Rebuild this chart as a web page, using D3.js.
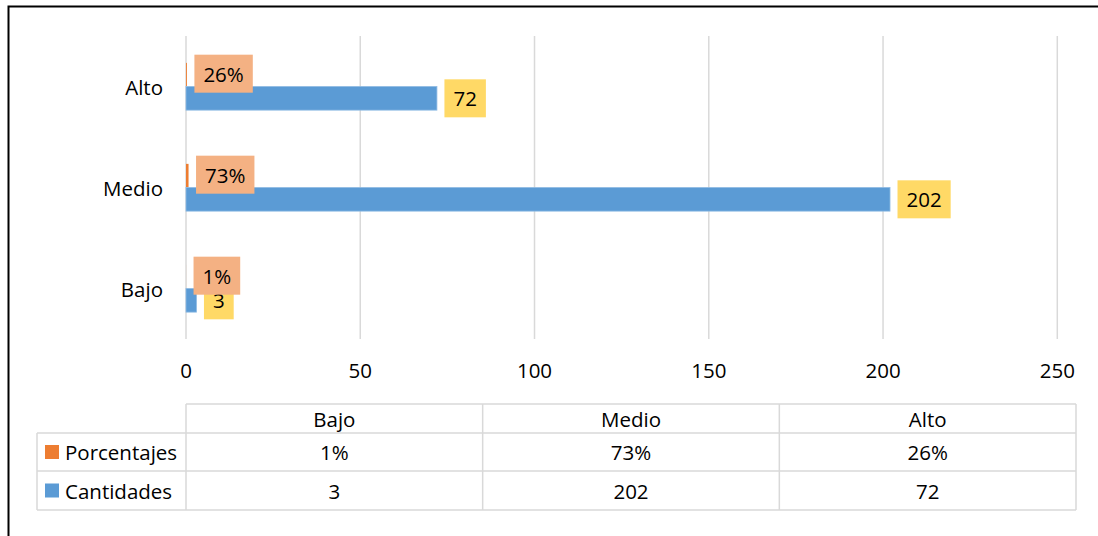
<!DOCTYPE html>
<html>
<head>
<meta charset="utf-8">
<script src="https://cdn.jsdelivr.net/npm/d3@7"></script>
<style>
  body { margin: 0; background: #fff; }
  text { font-family: "Open Sans", "Noto Sans", sans-serif; font-size: 20.5px; fill: #000; }
</style>
</head>
<body>
<div id="chart"></div>
<script>
// data (table order: Bajo, Medio, Alto)
var categorias = ["Bajo", "Medio", "Alto"];
var cantidades = [3, 202, 72];
var porcentajes = [0.01, 0.73, 0.26];
var porcentajesTxt = ["1%", "73%", "26%"];
var series = ["Porcentajes", "Cantidades"];
var xTicks = [0, 50, 100, 150, 200, 250];

function init() {
    var w = 1098, h = 536;
    var azul = "#5b9bd5", naranja = "#ed7d31";
    var cajaAmarilla = "#ffd966", cajaNaranja = "#f4b183";
    var gris = "#d9d9d9";

    var svg = d3.select("#chart").append("svg")
        .attr("width", w)
        .attr("height", h);

    // outer frame
    svg.append("rect")
        .attr("x", 8.5).attr("y", 6.5)
        .attr("width", w + 20).attr("height", h + 20)
        .attr("fill", "none")
        .attr("stroke", "#000")
        .attr("stroke-width", 2);

    // scales
    var x = d3.scaleLinear().domain([0, 250]).range([186, 1057.3]);
    var y = d3.scaleBand()
        .domain(categorias.slice().reverse())
        .range([36, 339])
        .paddingInner(0.532)
        .paddingOuter(0.266);
    var y1 = d3.scaleBand().domain(series).range([0, y.bandwidth()]);

    // gridlines
    svg.append("g").selectAll("line")
        .data(xTicks)
        .enter().append("line")
        .attr("x1", function (d) { return x(d); })
        .attr("x2", function (d) { return x(d); })
        .attr("y1", 36).attr("y2", 339)
        .attr("stroke", gris)
        .attr("stroke-width", 1.5);

    // x axis labels
    svg.append("g").selectAll("text")
        .data(xTicks)
        .enter().append("text")
        .attr("x", function (d) { return x(d); })
        .attr("y", 370)
        .attr("text-anchor", "middle")
        .attr("dominant-baseline", "central")
        .text(function (d) { return d; });

    // category labels
    svg.append("g").selectAll("text")
        .data(categorias)
        .enter().append("text")
        .attr("x", 163)
        .attr("y", function (d) { return y(d) + y.bandwidth() / 2; })
        .attr("text-anchor", "end")
        .attr("dominant-baseline", "central")
        .text(function (d) { return d; });

    var filas = categorias.map(function (c, i) {
        return { cat: c, cant: cantidades[i], pct: porcentajes[i], pctTxt: porcentajesTxt[i] };
    });

    // bars
    var barras = svg.append("g");
    barras.selectAll(".pct")
        .data(filas)
        .enter().append("rect")
        .attr("x", x(0))
        .attr("y", function (d) { return y(d.cat) + y1("Porcentajes"); })
        .attr("width", function (d) { return x(d.pct) - x(0); })
        .attr("height", y1.bandwidth())
        .attr("fill", naranja);
    barras.selectAll(".cant")
        .data(filas)
        .enter().append("rect")
        .attr("x", x(0))
        .attr("y", function (d) { return y(d.cat) + y1("Cantidades"); })
        .attr("width", function (d) { return x(d.cant) - x(0); })
        .attr("height", y1.bandwidth())
        .attr("fill", azul)
        .attr("stroke", "#8fbbe3")
        .attr("stroke-width", 0.8);

    // data labels with filled boxes
    function etiqueta(g, xPos, yMid, txt, fondo) {
        var grupo = g.append("g");
        var r = grupo.append("rect");
        var t = grupo.append("text")
            .attr("x", xPos + 9)
            .attr("y", yMid)
            .attr("dominant-baseline", "central")
            .text(txt);
        var tw = t.node().getComputedTextLength();
        r.attr("x", xPos).attr("y", yMid - 19)
            .attr("width", tw + 18).attr("height", 38)
            .attr("fill", fondo);
    }
    var etiquetas = svg.append("g");
    filas.forEach(function (d) {
        etiqueta(etiquetas, x(d.cant) + 7.5,
            y(d.cat) + y1("Cantidades") + y1.bandwidth() / 2, d.cant, cajaAmarilla);
    });
    filas.forEach(function (d) {
        etiqueta(etiquetas, x(d.pct) + 7.5,
            y(d.cat) + y1("Porcentajes") + y1.bandwidth() / 2 - 1, d.pctTxt, cajaNaranja);
    });

    // data table
    var colX = d3.scaleBand().domain(categorias).range([186, 1076]);
    var filaY = [404, 433, 471, 510];
    var tabla = svg.append("g").attr("stroke", gris).attr("stroke-width", 1.5);
    tabla.append("line").attr("x1", 186).attr("x2", 1076).attr("y1", filaY[0]).attr("y2", filaY[0]);
    [filaY[1], filaY[2], filaY[3]].forEach(function (yy) {
        tabla.append("line").attr("x1", 37).attr("x2", 1076).attr("y1", yy).attr("y2", yy);
    });
    tabla.append("line").attr("x1", 37).attr("x2", 37).attr("y1", filaY[1]).attr("y2", filaY[3]);
    categorias.concat(["fin"]).forEach(function (c, i) {
        var xx = i < categorias.length ? colX(c) : 1076;
        tabla.append("line").attr("x1", xx).attr("x2", xx).attr("y1", filaY[0]).attr("y2", filaY[3]);
    });

    var tt = svg.append("g");
    categorias.forEach(function (c, i) {
        var cx = colX(c) + colX.bandwidth() / 2;
        tt.append("text").attr("x", cx).attr("y", (filaY[0] + filaY[1]) / 2)
            .attr("text-anchor", "middle").attr("dominant-baseline", "central").text(c);
        tt.append("text").attr("x", cx).attr("y", (filaY[1] + filaY[2]) / 2)
            .attr("text-anchor", "middle").attr("dominant-baseline", "central").text(porcentajesTxt[i]);
        tt.append("text").attr("x", cx).attr("y", (filaY[2] + filaY[3]) / 2)
            .attr("text-anchor", "middle").attr("dominant-baseline", "central").text(cantidades[i]);
    });

    // legend keys in the table
    var colores = [naranja, azul];
    series.forEach(function (s, i) {
        var cy = (filaY[i + 1] + filaY[i + 2]) / 2;
        tt.append("rect").attr("x", 45).attr("y", cy - 7)
            .attr("width", 14).attr("height", 14).attr("fill", colores[i]);
        tt.append("text").attr("x", 65).attr("y", cy)
            .attr("dominant-baseline", "central").text(s);
    });
}
window.onload = init;
</script>
</body>
</html>
